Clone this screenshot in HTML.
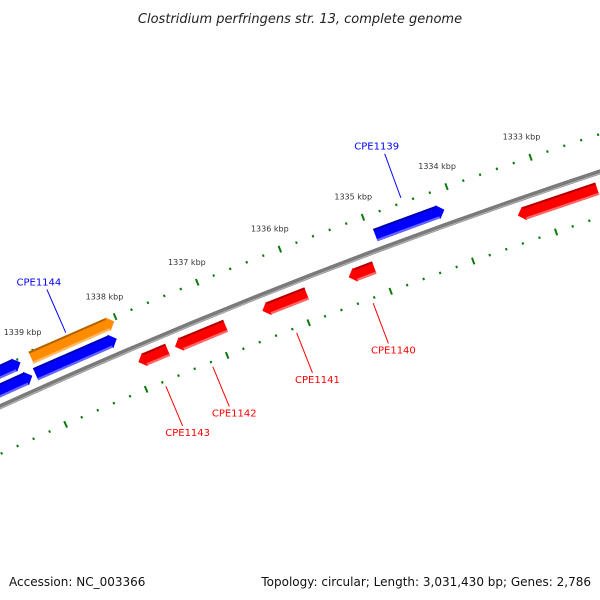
<!DOCTYPE html>
<html><head><meta charset="utf-8">
<style>
html,body{margin:0;padding:0;background:#fff;}
svg{display:block;font-family:"DejaVu Sans","Liberation Sans",sans-serif;}
</style></head>
<body>
<svg id="map" width="600" height="600" viewBox="0 0 600 600" xmlns="http://www.w3.org/2000/svg">
<rect width="600" height="600" fill="#fff"/>
<text x="300" y="23" text-anchor="middle" font-size="13" font-style="italic" fill="#222">Clostridium perfringens str. 13, complete genome</text>
<g id="ticks"></g>
<g id="backbone"></g>
<g id="genes"></g>
<g id="labels"></g>
<text x="9" y="586" font-size="12" fill="#111">Accession: NC_003366</text>
<text x="591" y="586" text-anchor="end" font-size="12" fill="#111">Topology: circular; Length: 3,031,430 bp; Genes: 2,786</text>
</svg>
<script>
// data
const tickMajors = [1333, 1334, 1335, 1336, 1337, 1338, 1339];
const tickLabels = ["1333 kbp","1334 kbp","1335 kbp","1336 kbp","1337 kbp","1338 kbp","1339 kbp"];
const geneNames  = ["", "", "", "CPE1144", "CPE1139", "CPE1143", "CPE1142", "CPE1141", "CPE1140", "", ""];
const geneStart  = [1339.9, 1339.9, 1339.05, 1339.08, 1334.94, 1337.96, 1337.51, 1336.44, 1335.39, 1333.35, 1332.30];
const geneEnd    = [1339.18, 1339.12, 1338.03, 1338.08, 1334.11, 1337.60, 1336.89, 1335.90, 1335.08, 1332.40, 1331.80];
const geneStrand = [1, 1, 1, 1, 1, -1, -1, -1, -1, -1, -1];
const geneRow    = [2, 1, 2, 1, 1, 1, 1, 1, 1, 1, 1];
const geneColor  = ["#0000ff","#0000ff","#ff8c00","#0000ff","#0000ff","#ff0000","#ff0000","#ff0000","#ff0000","#ff0000","#ff0000"];

// geometry
const NS = "http://www.w3.org/2000/svg";
const CX = 2454, CY = 5792, R0 = 5918;
const RO = 5954, RI = 5875;
const K0 = 1336, PHI0 = -1.9446, STEP = 0.01495;
function ang(k){ return PHI0 + (K0 - k) * STEP; }
function pt(k, r){ const a = ang(k); return [CX + r*Math.cos(a), CY + r*Math.sin(a)]; }
function mk(tag, attrs, parent){ const e = document.createElementNS(NS, tag); for (const k in attrs) e.setAttribute(k, attrs[k]); parent.appendChild(e); return e; }
function ptsStr(a){ return a.map(p => p[0].toFixed(1)+","+p[1].toFixed(1)).join(" "); }

// backbone
const bb = document.getElementById("backbone");
function arc(r, k1, k2){ const a = pt(k1, r), b = pt(k2, r); return `M${a[0]},${a[1]} A${r},${r} 0 0 1 ${b[0]},${b[1]}`; }
let e = mk("path", {d: arc(R0, 1340.5, 1331), stroke:"#7a7a7a", "stroke-width":5, fill:"none"}, bb);


e = mk("path", {d: arc(R0-1.5, 1340.5, 1331), stroke:"#b0b0b0", "stroke-width":1.2, fill:"none"}, bb);



// ticks
const tg = document.getElementById("ticks");
for (let i = 0; i <= 50; i++) {
  const k = 1331 + i * 0.2;
  const major = Math.abs(k - Math.round(k)) < 0.01;
  [RO, RI].forEach(r => {
    const half = major ? 3.5 : 1.2;
    const a = pt(k, r - half), b = pt(k, r + half);
    const t = mk("line", {x1:a[0], y1:a[1], x2:b[0], y2:b[1], stroke:"#0a7a0a", "stroke-width":2}, tg);
    
    
  });
}
tickMajors.forEach((k, i) => {
  const p = pt(k, RO + 22);
  const t = mk("text", {x:p[0]-2, y:p[1]+3, "text-anchor":"middle", "font-size":8, fill:"#333"}, tg);
  t.textContent = tickLabels[i];
  
  
});

// genes
const gg = document.getElementById("genes");
const lg = document.getElementById("labels");
const ROWOFF = {1: 15, 2: 32};
function shade(c, f){ const n = parseInt(c.slice(1),16); let r=n>>16,g=(n>>8)&255,b=n&255; const m = v => Math.max(0,Math.min(255,Math.round(f<0? v*(1+f) : v+(255-v)*f))); return "rgb("+m(r)+","+m(g)+","+m(b)+")"; }
geneStart.forEach((s, i) => {
  const en = geneEnd[i], st = geneStrand[i];
  const rc = R0 + st * ROWOFF[geneRow[i]];
  const h = 6.5, hh = 7.5, head = 0.08;
  let poly, a1, a2;
  if (st > 0) {
    const kb = en + head;
    poly = [pt(s, rc+h), pt(kb, rc+h), pt(kb, rc+hh), pt(en, rc), pt(kb, rc-hh), pt(kb, rc-h), pt(s, rc-h)];
    a1 = s; a2 = kb;
  } else {
    const kt = s - head;
    poly = [pt(en, rc+h), pt(kt, rc+h), pt(kt, rc+hh), pt(s, rc), pt(kt, rc-hh), pt(kt, rc-h), pt(en, rc-h)];
    a1 = kt; a2 = en;
  }
  const g = mk("g", {}, gg);
  
  
  mk("polygon", {points: ptsStr(poly), fill: geneColor[i]}, g);
  mk("polygon", {points: ptsStr([pt(a1, rc+h), pt(a2, rc+h), pt(a2, rc+h-2), pt(a1, rc+h-2)]), fill: shade(geneColor[i], -0.3)}, g);
  mk("polygon", {points: ptsStr([pt(a1, rc-h+2.2), pt(a2, rc-h+2.2), pt(a2, rc-h), pt(a1, rc-h)]), fill: shade(geneColor[i], 0.4)}, g);
  if (geneNames[i]) {
    const km = (s + en) / 2;
    const lc = st > 0 ? "#0000ff" : "#ff0000";
    const r1 = st > 0 ? RO + 5 : RI - 5;
    const r2 = st > 0 ? RO + 52 : RI - 48;
    const a = pt(km, r1), b = pt(km, r2);
    const l = mk("line", {x1:a[0], y1:a[1], x2:b[0], y2:b[1], stroke: lc, "stroke-width":1}, lg);
    
    
    const t = mk("text", {x:b[0] + (st>0 ? -8 : 5), y: st > 0 ? b[1]-4 : b[1]+10, "text-anchor":"middle", "font-size":10, fill: lc}, lg);
    t.textContent = geneNames[i];
    
    
  }
});
</script>
</body></html>
